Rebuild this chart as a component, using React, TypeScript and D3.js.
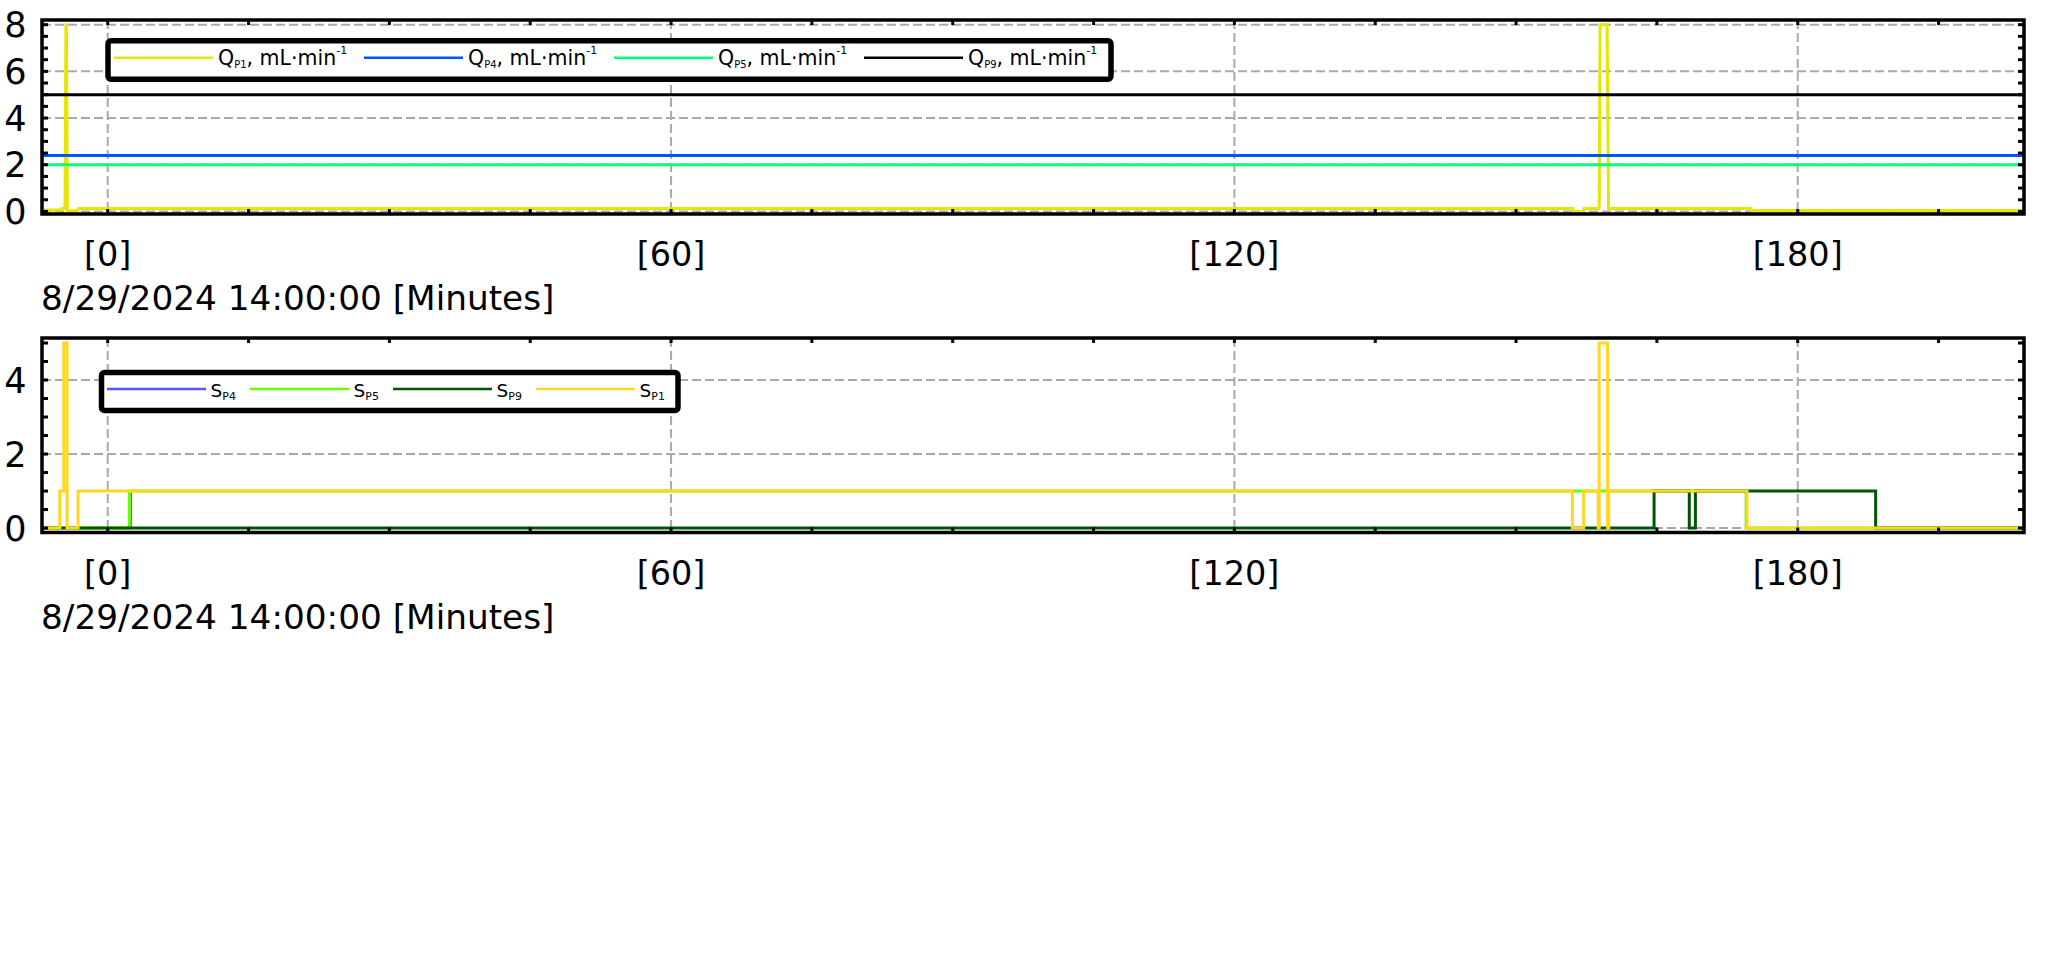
import React from "react";
import * as d3 from "d3";

// time axis (minutes from 8/29/2024 14:00:00)
const xDomain: [number, number] = [-7, 204.1];
const xMajor = [0, 60, 120, 180];
const xLabels = ["[0]", "[60]", "[120]", "[180]"];
const axisTitle = "8/29/2024 14:00:00 [Minutes]";

const flowTicks = [0, 2, 4, 6, 8];
const stateTicks = [0, 2, 4];

// flow rates, mL/min  [minute, value]
const qP1: [number, number][] = [
  [-7, 0.06], [-4.95, 0.06], [-4.85, 0.13], [-4.55, 0.13], [-4.45, 8.0], [-4.4, 8.0],
  [-4.3, 0.03], [-3.2, 0.03], [-3.1, 0.13], [156.05, 0.13], [156.2, 0.0], [157.1, 0.0],
  [157.25, 0.13], [158.85, 0.13], [158.95, 8.0], [159.7, 8.0], [159.85, 0.13],
  [174.95, 0.13], [175.05, 0.04], [204.1, 0.04],
];
const qP4: [number, number][] = [[-7, 2.4], [204.1, 2.4]];
const qP5: [number, number][] = [[-7, 2.0], [204.1, 2.0]];
const qP9: [number, number][] = [[-7, 5.0], [204.1, 5.0]];

// pump states (step)
const sP4: [number, number][] = [[-7, 0], [2.5, 1], [174.5, 0], [204.1, 0]];
const sP5: [number, number][] = [[-7, 0], [2.3, 1], [174.5, 0], [204.1, 0]];
const sP9: [number, number][] = [[-7, 0], [164.7, 1], [168.45, 0], [169.1, 1], [188.3, 0], [204.1, 0]];
const sP1: [number, number][] = [
  [-7, 0], [-5.1, 1], [-4.68, 5], [-4.33, 0], [-3.16, 1], [156.0, 0], [157.2, 1],
  [158.75, 0], [158.85, 5], [159.75, 0], [159.87, 1], [174.6, 0], [204.1, 0],
];

const flowNames = ["P1", "P4", "P5", "P9"];
const stateNames = ["P4", "P5", "P9", "P1"];

const FONT = "DejaVu Sans, Verdana, sans-serif";
const LEFT = 42;
const RIGHT = 2024;
const GRID = "#a9a9a9";

const x = d3.scaleLinear().domain(xDomain).range([LEFT, RIGHT]);

type Series = { data: [number, number][]; color: string; width: number; step?: boolean };

function Panel(props: {
  id: string;
  top: number;
  bottom: number;
  yDomain: [number, number];
  yTicks: number[];
  yMax: number;
  series: Series[];
  legend: React.ReactNode;
}) {
  const { id, top, bottom, yDomain, yTicks, yMax, series, legend } = props;
  const y = d3.scaleLinear().domain(yDomain).range([bottom, top]);
  const minorX = d3.range(0, xDomain[1], 15);
  const minorY = d3.range(0, yMax + 0.01, 0.5);

  return (
    <g>
      <defs>
        <clipPath id={id}>
          <rect x={LEFT} y={top} width={RIGHT - LEFT} height={bottom - top} />
        </clipPath>
      </defs>
      {/* grid */}
      {yTicks.map((t) => (
        <line key={"gy" + t} x1={LEFT} x2={RIGHT} y1={y(t)} y2={y(t)} stroke={GRID} strokeWidth={2} strokeDasharray="9,4" />
      ))}
      {xMajor.map((t) => (
        <line key={"gx" + t} x1={x(t)} x2={x(t)} y1={top} y2={bottom} stroke={GRID} strokeWidth={2} strokeDasharray="9,4" />
      ))}
      {/* data */}
      <g clipPath={`url(#${id})`}>
        {series.map((s, i) => {
          const line = d3
            .line<[number, number]>()
            .x((d) => x(d[0]))
            .y((d) => y(d[1]))
            .curve(s.step ? d3.curveStepAfter : d3.curveLinear);
          return <path key={i} d={line(s.data) || ""} fill="none" stroke={s.color} strokeWidth={s.width} />;
        })}
      </g>
      {/* ticks */}
      {minorX.map((t) => (
        <g key={"tx" + t}>
          <line x1={x(t)} x2={x(t)} y1={top} y2={top + 5} stroke="#000" strokeWidth={3} />
          <line x1={x(t)} x2={x(t)} y1={bottom} y2={bottom - 5} stroke="#000" strokeWidth={3} />
        </g>
      ))}
      {minorY.map((t) => (
        <g key={"ty" + t}>
          <line x1={LEFT} x2={LEFT + 6} y1={y(t)} y2={y(t)} stroke="#000" strokeWidth={3} />
          <line x1={RIGHT} x2={RIGHT - 6} y1={y(t)} y2={y(t)} stroke="#000" strokeWidth={3} />
        </g>
      ))}
      <rect x={LEFT} y={top} width={RIGHT - LEFT} height={bottom - top} fill="none" stroke="#000" strokeWidth={3.5} />
      {/* y labels */}
      {yTicks.map((t) => (
        <text key={"ly" + t} x={26.5} y={y(t) + 12.5} textAnchor="end" fontFamily={FONT} fontSize={35}>
          {t}
        </text>
      ))}
      {/* x labels */}
      {xMajor.map((t, i) => (
        <text key={"lx" + t} x={x(t)} y={bottom + 52} textAnchor="middle" fontFamily={FONT} fontSize={33.5}>
          {xLabels[i]}
        </text>
      ))}
      <text x={41} y={bottom + 96} fontFamily={FONT} fontSize={34.3}>
        {axisTitle}
      </text>
      {legend}
    </g>
  );
}

const flowColors = ["#e6e600", "#0055ff", "#00ff80", "#000000"];
const stateColors = ["#5555ff", "#66ff00", "#005500", "#ffd722"];

function FlowLegend() {
  return (
    <g fontFamily={FONT}>
      <rect x={108} y={40.8} width={1003} height={38.4} rx={3} fill="#fff" stroke="#000" strokeWidth={5.5} />
      {flowNames.map((n, i) => {
        const lx = 114 + i * 250;
        return (
          <g key={n}>
            <line x1={lx} x2={lx + 99} y1={57.7} y2={57.7} stroke={flowColors[i]} strokeWidth={2.5} />
            <text x={lx + 104} y={65} fontSize={20.5}>
              Q
              <tspan fontSize={10} dy={2.5}>{n}</tspan>
              <tspan dy={-2.5}>, mL·min</tspan>
              <tspan fontSize={11} dy={-11}>-1</tspan>
            </text>
          </g>
        );
      })}
    </g>
  );
}

function StateLegend() {
  return (
    <g fontFamily={FONT}>
      <rect x={101.5} y={372.5} width={576.5} height={38} rx={3} fill="#fff" stroke="#000" strokeWidth={5.5} />
      {stateNames.map((n, i) => {
        const lx = 107 + i * 143;
        return (
          <g key={n}>
            <line x1={lx} x2={lx + 99} y1={389} y2={389} stroke={stateColors[i]} strokeWidth={2.5} />
            <text x={lx + 103.5} y={397.3} fontSize={18.5}>
              S
              <tspan fontSize={11} dy={2.7}>{n}</tspan>
            </text>
          </g>
        );
      })}
    </g>
  );
}

export default function App() {
  const flowSeries: Series[] = [
    { data: qP1, color: flowColors[0], width: 3 },
    { data: qP4, color: flowColors[1], width: 3 },
    { data: qP5, color: flowColors[2], width: 3 },
    { data: qP9, color: flowColors[3], width: 3 },
  ];
  const stateSeries: Series[] = [
    { data: sP4, color: stateColors[0], width: 1.5, step: true },
    { data: sP5, color: stateColors[1], width: 3, step: true },
    { data: sP9, color: stateColors[2], width: 3, step: true },
    { data: sP1, color: stateColors[3], width: 3, step: true },
  ];
  return (
    <svg width={2048} height={963} style={{ position: "absolute", left: 0, top: 0, background: "#fff" }}>
      <rect width={2048} height={963} fill="#fff" />
      <Panel
        id="clipFlow"
        top={20}
        bottom={214}
        yDomain={[-0.11, 8.2]}
        yTicks={flowTicks}
        yMax={8}
        series={flowSeries}
        legend={<FlowLegend />}
      />
      <Panel
        id="clipState"
        top={338}
        bottom={532.5}
        yDomain={[-0.12, 5.135]}
        yTicks={stateTicks}
        yMax={5}
        series={stateSeries}
        legend={<StateLegend />}
      />
    </svg>
  );
}
